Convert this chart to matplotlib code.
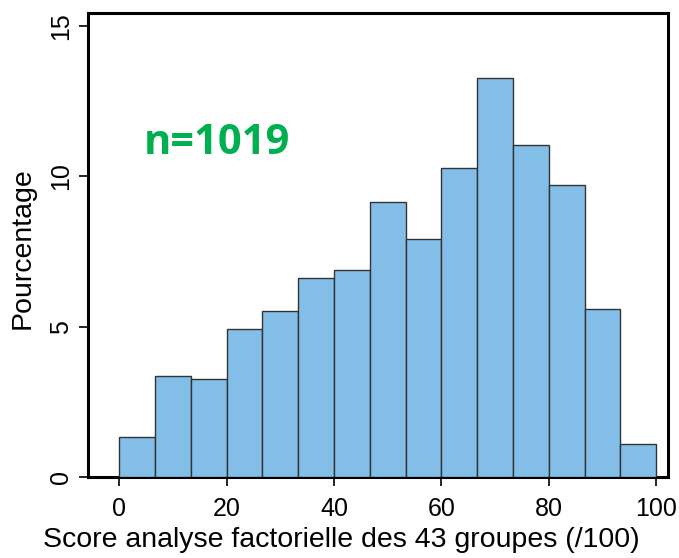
import numpy as np
import matplotlib
matplotlib.use("Agg")
from matplotlib import pyplot as plt

# bin edges (15 classes over 0-100) and percentages
edges = np.linspace(0, 100, 16)
pct = [1.33, 3.37, 3.27, 4.93, 5.53, 6.63, 6.87, 9.13, 7.93, 10.27,
       13.27, 11.03, 9.70, 5.60, 1.10]
xticks = [0, 20, 40, 60, 80, 100]
yticks = [0, 5, 10, 15]

plt.rcParams['font.family'] = ['Liberation Sans', 'DejaVu Sans']

W, H = 679, 558
fig = plt.figure(figsize=(W/100, H/100), dpi=100)
ax = fig.add_axes([88/W, 1 - 477/H, (668-88)/W, (477-13)/H])

ax.bar(edges[:-1], pct, width=np.diff(edges), align='edge',
       color='#82BEE8', edgecolor='#333333', linewidth=1.0, zorder=3)

ax.set_xlim(-5.8, 102.2)
ax.set_ylim(0, 15.43)
for s in ax.spines.values():
    s.set_linewidth(2.2)
    s.set_zorder(2)

ax.set_xticks(xticks)
ax.set_yticks(yticks)
ax.tick_params(axis='both', direction='out', length=6.5, width=1.2, labelsize=18)
ax.tick_params(axis='x', pad=8)
ax.tick_params(axis='y', pad=4)
for lab in ax.get_yticklabels():
    lab.set_rotation(90)
    lab.set_va('center')

# axis titles placed where they sit in the reference
fig.text(341/W, 1 - 547/H, 'Score analyse factorielle des 43 groupes (/100)',
         fontsize=20.5, ha='center', va='baseline')
fig.text(23/W, 1 - 248/H, 'Pourcentage', fontsize=20.5, rotation=90,
         ha='center', va='center')

ax.text(4.5, 11.1, 'n=1019', color='#00B050', fontsize=30, fontweight='bold',
        family=['Open Sans', 'DejaVu Sans'], va='center', ha='left')

fig.savefig('out.png', dpi=100)
